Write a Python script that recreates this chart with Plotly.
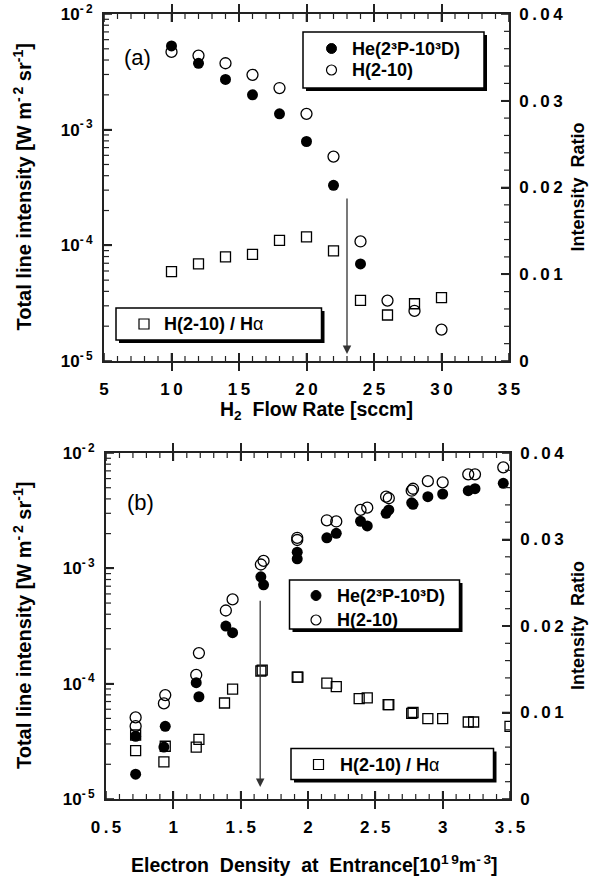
import math
import plotly.graph_objects as go

W, H = 597, 881

# ---------------- data: panel (a) ----------------
flow_he = [10, 12, 14, 16, 18, 20, 22, 24]
he_a = [5.3e-3, 3.75e-3, 2.72e-3, 2.0e-3, 1.37e-3, 7.9e-4, 3.3e-4, 6.9e-5]
flow_h = [10, 12, 14, 16, 18, 20, 22, 24, 26, 28, 30]
h_a = [4.7e-3, 4.37e-3, 3.75e-3, 2.98e-3, 2.29e-3, 1.37e-3, 5.85e-4, 1.08e-4, 3.33e-5, 2.71e-5, 1.87e-5]
ratio_a = [0.0103, 0.0112, 0.0120, 0.0123, 0.0139, 0.0143, 0.0127, 0.0070, 0.0053, 0.0066, 0.0073]
arrow_a = {"x": 23, "y_from": 0.0189, "y_to": 0.0008}

# ---------------- data: panel (b) ----------------
ne_he = [0.72, 0.72, 0.93, 0.94, 1.17, 1.19, 1.39, 1.44, 1.65, 1.67, 1.92, 1.92, 2.14, 2.21,
         2.39, 2.44, 2.58, 2.60, 2.77, 2.78, 2.89, 3.00, 3.19, 3.24, 3.45]
he_b = [3.5e-5, 1.64e-5, 2.82e-5, 4.27e-5, 1.02e-4, 7.7e-5, 3.16e-4, 2.77e-4, 8.45e-4, 7.2e-4,
        1.38e-3, 1.21e-3, 1.84e-3, 2.01e-3, 2.56e-3, 2.33e-3, 3.0e-3, 3.21e-3, 3.7e-3, 3.59e-3,
        4.18e-3, 4.41e-3, 4.71e-3, 4.9e-3, 5.46e-3]
ne_h = [0.72, 0.72, 0.94, 0.93, 1.19, 1.17, 1.39, 1.44, 1.65, 1.67, 1.92, 1.92, 2.14, 2.21,
        2.39, 2.44, 2.58, 2.60, 2.77, 2.78, 2.89, 3.00, 3.19, 3.24, 3.45]
h_b = [5.1e-5, 4.28e-5, 7.96e-5, 6.74e-5, 1.84e-4, 1.19e-4, 4.31e-4, 5.38e-4, 1.08e-3, 1.16e-3,
       1.76e-3, 1.84e-3, 2.61e-3, 2.55e-3, 3.21e-3, 3.36e-3, 4.18e-3, 4.05e-3, 4.71e-3, 4.9e-3,
       5.7e-3, 5.57e-3, 6.53e-3, 6.53e-3, 7.51e-3]
ne_r = [0.72, 0.72, 0.94, 0.93, 1.17, 1.19, 1.38, 1.44, 1.65, 1.66, 1.92, 1.925, 2.14, 2.21,
        2.38, 2.44, 2.595, 2.60, 2.77, 2.78, 2.89, 3.00, 3.19, 3.23, 3.50]
ratio_b = [0.0074, 0.0056, 0.0061, 0.0043, 0.0060, 0.0069, 0.0111, 0.0127, 0.0148, 0.0149,
           0.0141, 0.0141, 0.0134, 0.0130, 0.0116, 0.0117, 0.0109, 0.0109, 0.0099, 0.0100,
           0.0093, 0.0093, 0.0089, 0.0089, 0.0084]
arrow_b = {"x": 1.645, "y_from": 0.0231, "y_to": 0.0014}

log_ticks = [1e-5, 1e-4, 1e-3, 1e-2]
log_ticktext = ["10<sup>-\u20095</sup>", "10<sup>-\u20094</sup>", "10<sup>-\u20093</sup>", "10<sup>-\u20092</sup>"]
ratio_ticks = [0, 0.01, 0.02, 0.03, 0.04]
ratio_ticktext = ["0", "0.01", "0.02", "0.03", "0.04"]
flow_ticks = [5, 10, 15, 20, 25, 30, 35]
flow_ticktext = ["5", "10", "15", "20", "25", "30", "35"]
ne_ticks = [0.5, 1, 1.5, 2, 2.5, 3, 3.5]
ne_ticktext = ["0.5", "1", "1.5", "2", "2.5", "3", "3.5"]

# ---------------- helpers ----------------
TS = "\u2009"


def spaced(s):
    return "<b>" + TS.join(list(s)) + "</b>"


def px(x):
    return x / W


def py(y):
    return 1 - y / H


FONT = "Liberation Sans, Arial, sans-serif"
AX = "#222222"

fig = go.Figure()

fill = dict(symbol="circle", size=11, color="black")
opn = dict(symbol="circle-open", size=11, color="black", line=dict(width=1.3, color="black"))
sq = dict(symbol="square-open", size=10, color="black", line=dict(width=1.3, color="black"))

# panel (a)
fig.add_trace(go.Scatter(x=flow_he, y=he_a, mode="markers", marker=fill, xaxis="x", yaxis="y", showlegend=False))
fig.add_trace(go.Scatter(x=flow_h, y=h_a, mode="markers", marker=opn, xaxis="x", yaxis="y", showlegend=False))
fig.add_trace(go.Scatter(x=flow_h, y=ratio_a, mode="markers", marker=sq, xaxis="x", yaxis="y2", showlegend=False))
# panel (b)
fig.add_trace(go.Scatter(x=ne_he, y=he_b, mode="markers", marker=fill, xaxis="x2", yaxis="y3", showlegend=False))
fig.add_trace(go.Scatter(x=ne_h, y=h_b, mode="markers", marker=opn, xaxis="x2", yaxis="y3", showlegend=False))
fig.add_trace(go.Scatter(x=ne_r, y=ratio_b, mode="markers", marker=sq, xaxis="x2", yaxis="y4", showlegend=False))

tickfont = dict(family=FONT, size=17, color="black")
common = dict(showline=True, linecolor=AX, linewidth=1.8, ticks="inside", tickcolor=AX,
              tickwidth=2, showgrid=False, zeroline=False, tickfont=tickfont, automargin=False)

xa_common = dict(common, ticklen=8, mirror="allticks", ticklabelstandoff=12)
ylog_common = dict(common, type="log", range=[-5, -2], tickmode="array", tickvals=log_ticks,
                   ticktext=["<b>" + t + "</b>" for t in log_ticktext], ticklen=8, ticklabelstandoff=6)
yr_common = dict(common, range=[0, 0.04], side="right", tickmode="array", tickvals=ratio_ticks,
                 ticktext=[spaced(t) for t in ratio_ticktext], ticklen=8, ticklabelstandoff=5)

dom_a_x = [px(104), px(509)]
dom_a_y = [py(361), py(14)]
dom_b_x = [px(106), px(510)]
dom_b_y = [py(799), py(453)]

fig.update_layout(
    width=W, height=H, margin=dict(l=0, r=0, t=0, b=0, autoexpand=False),
    paper_bgcolor="white", plot_bgcolor="white", showlegend=False,
    xaxis=dict(xa_common, domain=dom_a_x, anchor="y", range=[5, 35], tickmode="array",
               tickvals=flow_ticks, ticktext=[spaced(t) for t in flow_ticktext]),
    yaxis=dict(ylog_common, domain=dom_a_y, anchor="x"),
    yaxis2=dict(yr_common, overlaying="y", anchor="x"),
    xaxis2=dict(xa_common, domain=dom_b_x, anchor="y3", range=[0.5, 3.5], tickmode="array",
                tickvals=ne_ticks, ticktext=[spaced(t) for t in ne_ticktext]),
    yaxis3=dict(ylog_common, domain=dom_b_y, anchor="x2"),
    yaxis4=dict(yr_common, overlaying="y3", anchor="x2"),
)

anns = []
shapes = []

# ---- tick marks drawn as axis decorations (from the tick arrays) ----
MAJ, MIN = 8, 5


def tline(xref, yref, x0, x1, y0, y1, major):
    shapes.append(dict(type="line", xref=xref, yref=yref, x0=x0, x1=x1, y0=y0, y1=y1,
                       line=dict(color=AX, width=1.6 if major else 1.2), layer="above"))


def ticks_panel(xa, ya, yr2, xmajor, xstep, xlo, xhi, pw, ph):
    # x ticks bottom and top
    n = int(round((xhi - xlo) / xstep))
    for i in range(n + 1):
        v = round(xlo + i * xstep, 6)
        major = any(abs(v - t) < 1e-6 for t in xmajor)
        L = (MAJ if major else MIN) / ph
        tline(xa, ya + " domain", v, v, 0, L, major)
        tline(xa, ya + " domain", v, v, 1, 1 - L, major)
    # left log ticks
    for e in range(-5, -1):
        for k in range(1, 10):
            if e == -2 and k > 1:
                break
            f = (math.log10(k * 10 ** e) + 5) / 3
            major = (k == 1)
            L = (MAJ if major else MIN) / pw
            tline(xa + " domain", ya + " domain", 0, L, f, f, major)
    # right linear ticks
    for i in range(21):
        v = round(i * 0.002, 6)
        major = (i % 5 == 0)
        L = (MAJ if major else MIN) / pw
        tline(xa + " domain", yr2, 1, 1 - L, v, v, major)


ticks_panel("x", "y", "y2", flow_ticks, 1, 5, 35, 405, 347)
ticks_panel("x2", "y3", "y4", ne_ticks, 0.1, 0.5, 3.5, 404, 346)

# arrows
for a, xr, yr in [(arrow_a, "x", "y2"), (arrow_b, "x2", "y4")]:
    anns.append(dict(x=a["x"], y=a["y_to"], ax=a["x"], ay=a["y_from"], xref=xr, yref=yr,
                     axref=xr, ayref=yr, showarrow=True, arrowhead=2, arrowsize=1.3,
                     arrowwidth=1.3, arrowcolor="#333333", text=""))

# axis titles
tfont = dict(family=FONT, size=19.5, color="black", weight="bold")
lfont_t = dict(family=FONT, size=20, color="black", weight="bold")
ylab = "Total line intensity [W m<sup>-\u20092</sup> sr<sup>-1</sup>]"
rlab = "Intensity\u00a0\u00a0Ratio"
for (yc, x_left, x_right) in [((14 + 361) / 2, 22, 578), ((453 + 799) / 2, 22, 578)]:
    anns.append(dict(x=px(x_left), y=py(yc), xref="paper", yref="paper", text=ylab, textangle=-90,
                     showarrow=False, font=lfont_t, xanchor="center", yanchor="middle"))
    anns.append(dict(x=px(x_right), y=py(yc), xref="paper", yref="paper", text=rlab, textangle=-90,
                     showarrow=False, font=dict(tfont, size=18), xanchor="center", yanchor="middle"))
anns.append(dict(x=px(316), y=py(410), xref="paper", yref="paper",
                 text="H<sub>2</sub>\u00a0 Flow Rate [sccm]", showarrow=False, font=tfont,
                 xanchor="center", yanchor="middle"))
anns.append(dict(x=px(314), y=py(864), xref="paper", yref="paper",
                 text="Electron\u00a0 Density\u00a0 at\u00a0 Entrance[10<sup>1\u20099</sup>m<sup>-\u20093</sup>]",
                 showarrow=False, font=tfont, xanchor="center", yanchor="middle"))

# panel labels
lfont = dict(family=FONT, size=22, color="black")
anns.append(dict(x=px(122), y=py(57), xref="paper", yref="paper", text="(a)", showarrow=False,
                 font=lfont, xanchor="left", yanchor="middle"))
anns.append(dict(x=px(125), y=py(503), xref="paper", yref="paper", text="(b)", showarrow=False,
                 font=lfont, xanchor="left", yanchor="middle"))


# legend boxes (decorations)
def box(x0, y0, x1, y1):
    shapes.append(dict(type="rect", xref="paper", yref="paper", x0=px(x0 + 3), x1=px(x1 + 3),
                       y0=py(y1 + 3), y1=py(y0 + 3), fillcolor="black", line=dict(width=0), layer="above"))
    shapes.append(dict(type="rect", xref="paper", yref="paper", x0=px(x0), x1=px(x1),
                       y0=py(y1), y1=py(y0), fillcolor="white", line=dict(width=1.5, color="black"),
                       layer="above"))


def sym(kind, cx, cy, r=5.0):
    if kind == "fill":
        shapes.append(dict(type="circle", xref="paper", yref="paper", x0=px(cx - r), x1=px(cx + r),
                           y0=py(cy + r), y1=py(cy - r), fillcolor="black", line=dict(width=1, color="black"),
                           layer="above"))
    elif kind == "open":
        shapes.append(dict(type="circle", xref="paper", yref="paper", x0=px(cx - r), x1=px(cx + r),
                           y0=py(cy + r), y1=py(cy - r), fillcolor="white", line=dict(width=1.2, color="black"),
                           layer="above"))
    else:
        shapes.append(dict(type="rect", xref="paper", yref="paper", x0=px(cx - r), x1=px(cx + r),
                           y0=py(cy + r), y1=py(cy - r), fillcolor="white", line=dict(width=1.2, color="black"),
                           layer="above"))


legfont = dict(family=FONT, size=18, color="black")


def label(x, y, text):
    anns.append(dict(x=px(x), y=py(y), xref="paper", yref="paper", text=text, showarrow=False,
                     font=legfont, xanchor="left", yanchor="middle"))


he_name = "<b>He(2\u00b3P-10\u00b3D)</b>"
h_name = "<b>H(2-10)</b>"
r_name = "<b>H(2-10) / H</b>\u03b1"

# panel (a) legends
box(303, 32, 484, 88)
sym("fill", 331.5, 48.5)
sym("open", 331.5, 70)
label(350, 48.5, he_name)
label(350, 70, h_name)
box(116, 308, 321.5, 340)
sym("sq", 144, 324)
label(162, 324, r_name)

# panel (b) legends
box(289.5, 580, 459.5, 629)
sym("fill", 316, 595.5)
sym("open", 316, 620)
label(335, 595.5, he_name)
label(335, 620, h_name)
box(291, 748.5, 493.5, 779.5)
sym("sq", 318.5, 764.5)
label(338, 764.5, r_name)

fig.update_layout(annotations=anns, shapes=shapes)
fig.write_html("out.html", config={"displayModeBar": False},
               post_script="document.body.style.margin='0';document.body.style.overflow='hidden';")
